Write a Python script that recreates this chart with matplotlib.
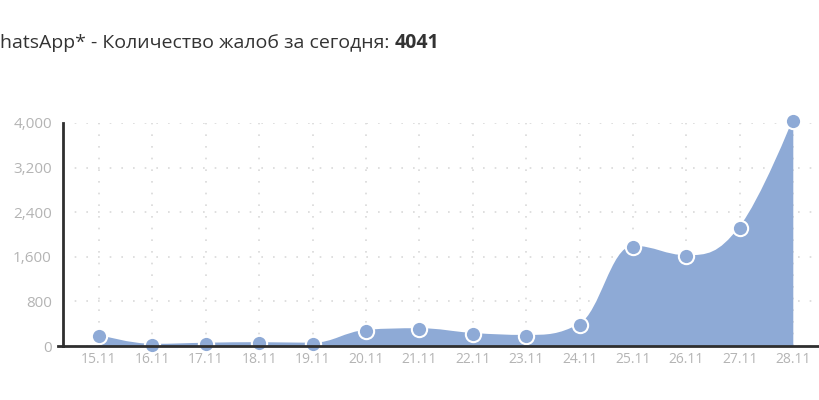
import numpy as np
import matplotlib
matplotlib.use("Agg")
from matplotlib import pyplot as plt
from matplotlib.path import Path
from matplotlib.patches import PathPatch

plt.rcParams['font.family'] = ['Open Sans', 'DejaVu Sans']

# dane
dates = ['15.11', '16.11', '17.11', '18.11', '19.11', '20.11', '21.11',
         '22.11', '23.11', '24.11', '25.11', '26.11', '27.11', '28.11']
complaints = [180, 20, 40, 50, 40, 270, 300, 215, 180, 380, 1780, 1610, 2120, 4041]
yticks = [0, 800, 1600, 2400, 3200, 4000]
title_text = 'WhatsApp* - Количество жалоб за сегодня: '
title_total = '4041'

fill_color = '#8eaad6'
axis_color = '#2f2f2f'
label_color = '#b4b4b4'


# gladka linia (spline w stylu highcharts)
def spline_path(xs, ys, close_to=None):
    n = len(xs)
    left = []
    right = []
    for i in range(n):
        x, y = xs[i], ys[i]
        if i == 0 or i == n - 1:
            left.append((x, y))
            right.append((x, y))
            continue
        px, py = xs[i - 1], ys[i - 1]
        nx, ny = xs[i + 1], ys[i + 1]
        lx = (1.5 * x + px) / 2.5
        ly = (1.5 * y + py) / 2.5
        rx = (1.5 * x + nx) / 2.5
        ry = (1.5 * y + ny) / 2.5
        corr = (ry - ly) * (rx - x) / (rx - lx) + y - ry
        ly += corr
        ry += corr
        if ly > max(py, y):
            ly = max(py, y)
            ry = 2 * y - ly
        elif ly < min(py, y):
            ly = min(py, y)
            ry = 2 * y - ly
        if ry > max(ny, y):
            ry = max(ny, y)
            ly = 2 * y - ry
        elif ry < min(ny, y):
            ry = min(ny, y)
            ly = 2 * y - ry
        left.append((lx, ly))
        right.append((rx, ry))
    verts = [(xs[0], ys[0])]
    codes = [Path.MOVETO]
    for i in range(1, n):
        verts += [right[i - 1], left[i], (xs[i], ys[i])]
        codes += [Path.CURVE4] * 3
    if close_to is not None:
        verts += [(xs[-1], close_to), (xs[0], close_to), (xs[0], ys[0])]
        codes += [Path.LINETO, Path.LINETO, Path.CLOSEPOLY]
    return Path(verts, codes)


xs = np.arange(len(dates))

fig = plt.figure(figsize=(8.2, 4), dpi=100)
ax = fig.add_axes([63 / 820, 54 / 400, 1 - 63 / 820, 223 / 400])

area = PathPatch(spline_path(xs, complaints, close_to=0), facecolor=fill_color,
                 edgecolor='white', linewidth=0, clip_on=False, zorder=2)
ax.add_patch(area)
ax.add_patch(PathPatch(spline_path(xs, complaints), facecolor='none',
                       edgecolor=fill_color, linewidth=1.5, clip_on=False, zorder=2))
ax.plot(xs, complaints, 'o', color=fill_color, markersize=11,
        markeredgecolor='white', markeredgewidth=1.5, clip_on=False, zorder=4)

ax.set_xlim(-0.674, 13.5)
ax.set_ylim(0, 4000)
ax.set_xticks(xs)
ax.set_xticklabels(dates)
ax.set_yticks(yticks)
ax.set_yticklabels([f'{v:,}' for v in yticks])

ax.grid(True, color='#d9d9d9', linestyle=(0, (1, 6)), linewidth=1.2)
ax.set_axisbelow(True)

for s in ['top', 'right']:
    ax.spines[s].set_visible(False)
ax.spines['left'].set_color(axis_color)
ax.spines['left'].set_linewidth(2)
ax.spines['bottom'].set_color(axis_color)
ax.spines['bottom'].set_linewidth(2)
ax.spines['left'].set_zorder(5)
ax.spines['bottom'].set_zorder(5)

ax.tick_params(axis='x', length=0, pad=4, labelsize=10, labelcolor=label_color)
ax.tick_params(axis='y', length=0, pad=8, labelsize=11, labelcolor=label_color)
# maly wystep osi x w lewo
ax.plot([-0.674 - 5 / 53.4, -0.674], [0, 0], color=axis_color, lw=2,
        clip_on=False, zorder=5)

# tytul (przyciety z lewej)
t1 = fig.text(-18 / 820, 1 - 43 / 400, title_text, fontsize=14,
              color='#333333', va='center', ha='left')
fig.canvas.draw()
bb = t1.get_window_extent()
fig.text(bb.x1 / 820, 1 - 43 / 400, title_total, fontsize=14, fontweight='bold',
         color='#333333', va='center', ha='left')

fig.savefig('out.png', dpi=100)
